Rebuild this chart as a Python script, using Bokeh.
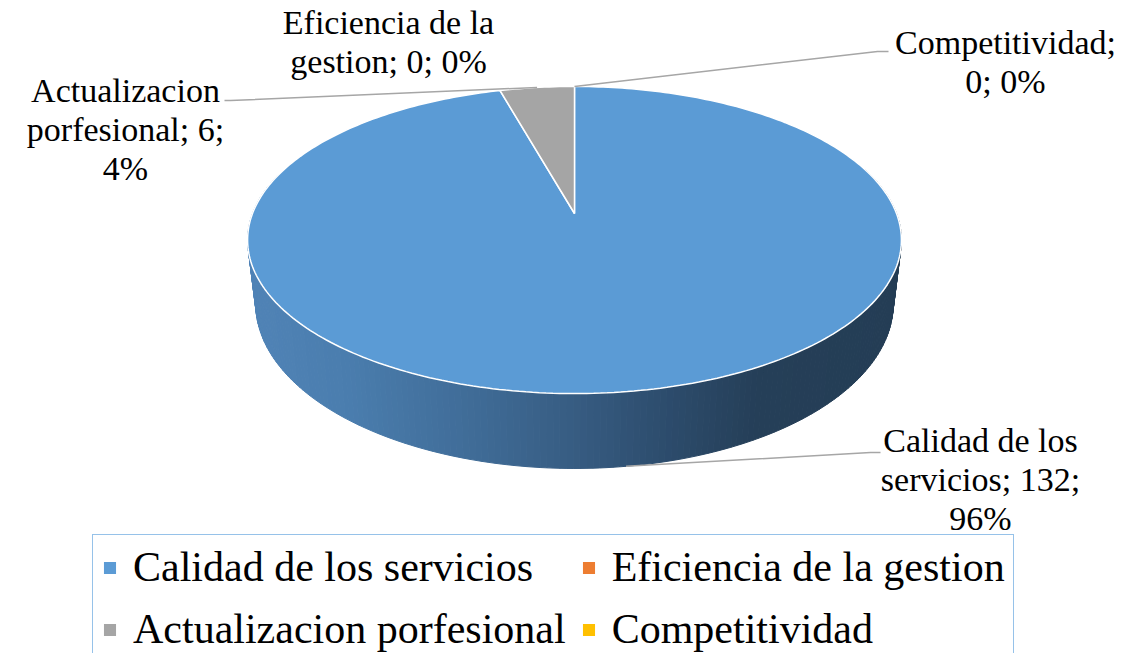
import math
import textwrap
from bokeh.plotting import figure
from bokeh.models import ColumnDataSource, Range1d, Legend, LegendItem
from bokeh.embed import file_html
from bokeh.resources import INLINE

# ---------------- data ----------------
categories = ["Calidad de los servicios", "Eficiencia de la gestion",
              "Actualizacion porfesional", "Competitividad"]
values = [132, 0, 6, 0]
colors = ["#5B9BD5", "#ED7D31", "#A5A5A5", "#FFC000"]

# ---------------- styling / layout ----------------
W, H = 1147, 653
CX = 574.0            # pie centre (screen x)
APEX_Y = 213.0        # projected centre of the top face
R = 322.0             # horizontal radius
K = 0.1726            # perspective factor
B = -112.2            # vertical scale
DEPTH = 62.0          # side depth (before perspective)
SHRINK = 0.975        # bottom rim narrows slightly
FONT = "'Liberation Serif', 'Times New Roman', serif"

label_pos = [(980, 440), (388, 22), (125, 90), (1005, 42)]   # first-line centre
label_lines_h = 39
leader_ends = [((870, 452), (880, 452)), None,
               ((230, 100), (224, 100)), ((877, 51), (888, 51))]


def proj(theta_deg, bottom=False):
    t = math.radians(theta_deg)
    u, v = math.sin(t), math.cos(t)
    d = 1 + K * v
    x = CX + R * u / d
    y = (APEX_Y + B * v) / d
    if bottom:
        x = CX + (x - CX) * SHRINK
        y = y + DEPTH / d
    return x, y


total = sum(values)
angles = []
acc = 0.0
for v in values:
    a0 = acc / total * 360.0
    acc += v
    a1 = acc / total * 360.0
    angles.append((a0, a1))


def side_color(x, base):
    stops = [(0.0, (80, 131, 182)), (0.15, (74, 125, 174)), (0.35, (63, 107, 150)),
             (0.5, (55, 92, 130)), (0.65, (44, 75, 107)), (0.78, (37, 63, 88)),
             (1.0, (36, 61, 85))]
    t = (x - (CX - R * 1.015)) / (2 * R * 1.015)
    t = min(max(t, 0.0), 1.0)
    for (t0, c0), (t1, c1) in zip(stops[:-1], stops[1:]):
        if t0 <= t <= t1:
            f = (t - t0) / (t1 - t0) if t1 > t0 else 0
            c = [c0[i] + (c1[i] - c0[i]) * f for i in range(3)]
            break
    if base != "#5B9BD5":
        g = int(sum(c) / 3 * 1.3)
        c = [g, g, g]
    return "#%02x%02x%02x" % tuple(int(round(ch)) for ch in c)


p = figure(width=W, height=H, output_backend="svg", toolbar_location=None,
           x_range=Range1d(0, W), y_range=Range1d(H, 0),
           min_border=0, outline_line_color=None, background_fill_color="white")
p.axis.visible = False
p.grid.visible = False

# ---- side strips (only the front half is visible) ----
sx, sy, sc = [], [], []
for i, (a0, a1) in enumerate(angles):
    if a1 - a0 <= 0:
        continue
    n = max(2, int((a1 - a0) / 1.0))
    for j in range(n):
        t0 = a0 + (a1 - a0) * j / n
        t1 = a0 + (a1 - a0) * (j + 1) / n
        mid = (t0 + t1) / 2
        if math.cos(math.radians(mid)) > 0.3:
            continue  # back part hidden by top face
        x0, y0 = proj(t0)
        x1, y1 = proj(t1)
        bx0, by0 = proj(t0, True)
        bx1, by1 = proj(t1, True)
        sx.append([x0, x1, bx1, bx0])
        sy.append([y0, y1, by1, by0])
        sc.append(side_color((x0 + x1) / 2, colors[i]))
p.patches(sx, sy, fill_color=sc, line_color=sc, line_width=1)

# ---- top faces ----
tx, ty = [], []
for i, (a0, a1) in enumerate(angles):
    n = max(1, int((a1 - a0) / 1.0))
    xs, ys = [CX], [APEX_Y]
    if a1 - a0 > 0:
        for j in range(n + 1):
            x, y = proj(a0 + (a1 - a0) * j / n)
            xs.append(x)
            ys.append(y)
    tx.append(xs)
    ty.append(ys)
src = ColumnDataSource(dict(xs=tx, ys=ty, color=colors, name=categories))
pie = p.patches("xs", "ys", source=src, fill_color="color",
                line_color="white", line_width=1.5)

# ---- leader lines ----
for i, (a0, a1) in enumerate(angles):
    ends = leader_ends[i]
    if ends is None:
        continue
    mid = (a0 + a1) / 2
    if math.cos(math.radians(mid)) < 0:
        x0, y0 = proj(mid, True)
    else:
        x0, y0 = proj(mid)
    p.line([x0, ends[0][0], ends[1][0]], [y0, ends[0][1], ends[1][1]],
           line_color="#A6A6A6", line_width=1.5)

# ---- data labels ----
lx, ly, lt = [], [], []
for i, name in enumerate(categories):
    pct = round(values[i] / total * 100)
    txt = f"{name}; {values[i]}; {pct}%"
    lines = textwrap.wrap(txt, 16)
    for k, ln in enumerate(lines):
        lx.append(label_pos[i][0])
        ly.append(label_pos[i][1] + k * label_lines_h)
        lt.append(ln)
p.text(lx, ly, text=lt, text_align="center", text_baseline="middle",
       text_font=FONT, text_font_size="34px", text_color="black")

# ---- legend ----
items = [LegendItem(label=categories[i], renderers=[pie], index=i) for i in range(4)]
legend = Legend(items=items, location=(92, -9), orientation="horizontal", ncols=2,
                label_text_font=FONT, label_text_font_size="42px",
                label_text_color="black", glyph_width=17, glyph_height=17,
                label_standoff=15, spacing=14, padding=8, margin=0,
                border_line_color="#2E86D4", border_line_width=1.5,
                background_fill_alpha=1.0)
p.add_layout(legend)

open("out.html", "w").write(file_html(p, INLINE))
